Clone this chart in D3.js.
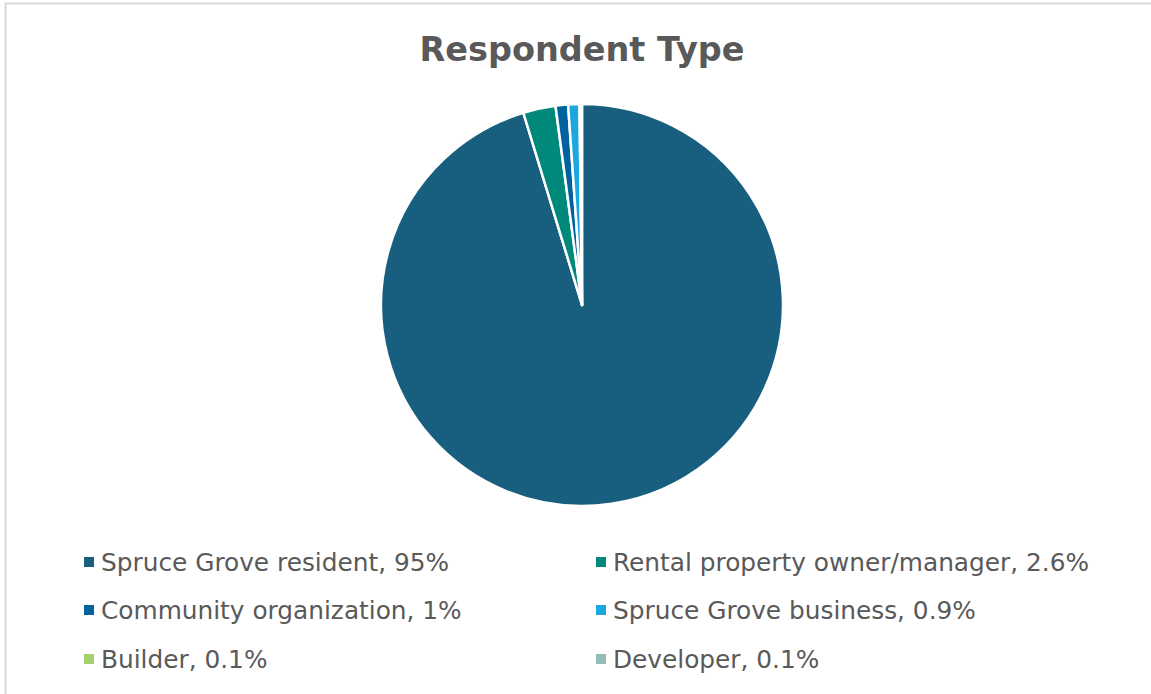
<!DOCTYPE html>
<html>
<head>
<meta charset="utf-8">
<script src="https://cdn.jsdelivr.net/npm/d3@7"></script>
<style>
  html, body { margin: 0; padding: 0; background: #fff; }
  svg { display: block; }
</style>
</head>
<body>
<svg id="chart" width="1151" height="694"></svg>
<script>
// Survey respondents by type (percent of all responses)
const categories = [
  "Spruce Grove resident",
  "Rental property owner/manager",
  "Community organization",
  "Spruce Grove business",
  "Builder",
  "Developer"
];
const values = [95, 2.6, 1, 0.9, 0.1, 0.1];
const colors = ["#175e7f", "#00897b", "#0063a0", "#1ca7e0", "#a4d06e", "#93bcb9"];

const data = categories.map((c, i) => ({ name: c, value: values[i], color: colors[i] }));

const svg = d3.select("#chart");
const W = 1151, H = 694;

// chart frame
svg.append("rect")
  .attr("x", 5.5).attr("y", 3.5)
  .attr("width", W + 10).attr("height", H + 10)
  .attr("fill", "#fff")
  .attr("stroke", "#d9d9d9")
  .attr("stroke-width", 2);

// title
svg.append("text")
  .attr("x", 582).attr("y", 61)
  .attr("text-anchor", "middle")
  .attr("font-family", "DejaVu Sans, Verdana, sans-serif")
  .attr("font-weight", "bold")
  .attr("font-size", 33.5)
  .attr("fill", "#595959")
  .text("Respondent Type");

// pie
const cx = 582, cy = 305, r = 201;
const pie = d3.pie().value(d => d.value).sort(null);
const arc = d3.arc().innerRadius(0).outerRadius(r);

svg.append("g")
  .attr("transform", `translate(${cx},${cy})`)
  .selectAll("path")
  .data(pie(data))
  .join("path")
  .attr("d", arc)
  .attr("fill", d => d.data.color)
  .attr("stroke", "#fff")
  .attr("stroke-width", 2.5)
  .attr("stroke-linejoin", "round");

// legend: two columns, three rows
const colX = [84, 596];
const rowY = [562, 610, 659];
const legend = svg.append("g");
const items = legend.selectAll("g")
  .data(data)
  .join("g")
  .attr("transform", (d, i) => `translate(${colX[i % 2]},${rowY[Math.floor(i / 2)]})`);

items.append("rect")
  .attr("x", 0).attr("y", -5)
  .attr("width", 10).attr("height", 10)
  .attr("fill", d => d.color);

items.append("text")
  .attr("x", 17).attr("y", 0)
  .attr("dy", "0.36em")
  .attr("font-family", "DejaVu Sans, Verdana, sans-serif")
  .attr("font-size", 24.8)
  .attr("fill", "#595959")
  .text(d => `${d.name}, ${d.value}%`);
</script>
</body>
</html>
